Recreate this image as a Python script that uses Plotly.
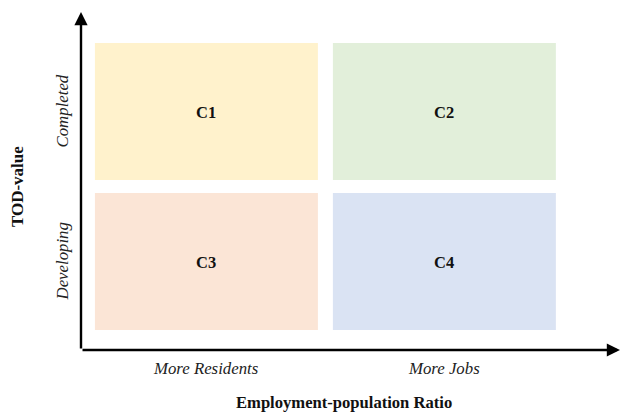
import plotly.graph_objects as go

# ---- data ----
column_labels = ["More Residents", "More Jobs"]          # x categories
row_labels = ["Developing", "Completed"]                 # y categories (bottom -> top)
cell_names = ["C1", "C2", "C3", "C4"]
cell_cols = [0, 1, 0, 1]
cell_rows = [1, 1, 0, 0]
cell_colors = ["#FFF2CC", "#E2EFDA", "#FBE5D6", "#DAE3F3"]
x_title = "Employment-population Ratio"
y_title = "TOD-value"

# ---- style ----
FONT = "Liberation Serif, Times New Roman, serif"
XGAP = 0.063   # gap between cells (x units)
YGAP = 0.087   # gap between cells (y units)
XRANGE = [-0.027, 2.238]
YRANGE = [-0.09, 2.163]

fig = go.Figure()

shapes = []
annotations = []
for name, c, r, col in zip(cell_names, cell_cols, cell_rows, cell_colors):
    shapes.append(dict(type="rect", xref="x", yref="y",
                       x0=c + XGAP / 2, x1=c + 1 - XGAP / 2,
                       y0=r + YGAP / 2, y1=r + 1 - YGAP / 2,
                       fillcolor=col, line=dict(width=0), layer="below"))
    annotations.append(dict(x=c + 0.5, y=r + 0.5, xref="x", yref="y",
                            text=f"<b>{name}</b>", showarrow=False, yshift=-1,
                            font=dict(family=FONT, size=16.5, color="#111")))

# column labels (below x axis)
for i, lab in enumerate(column_labels):
    annotations.append(dict(x=i + 0.5, y=0, xref="x", yref="paper",
                            text=f"<i>{lab}</i>", showarrow=False,
                            yanchor="middle", yshift=-18,
                            font=dict(family=FONT, size=16.8, color="#222")))
# row labels (left of y axis)
for j, lab in enumerate(row_labels):
    annotations.append(dict(x=0, y=j + 0.5, xref="paper", yref="y",
                            text=f"<i>{lab}</i>", showarrow=False, textangle=-90,
                            xanchor="center", xshift=-19,
                            font=dict(family=FONT, size=16.8, color="#222")))

# axis titles
annotations.append(dict(x=0.488, y=0, xref="paper", yref="paper",
                        text=f"<b>{x_title}</b>", showarrow=False,
                        yanchor="middle", yshift=-52,
                        font=dict(family=FONT, size=16.6, color="#111")))
annotations.append(dict(x=0, y=0.482, xref="paper", yref="paper",
                        text=f"<b>{y_title}</b>", showarrow=False, textangle=-90,
                        xanchor="center", xshift=-64,
                        font=dict(family=FONT, size=17, color="#111")))

# axis arrows
arrow = dict(text="", showarrow=True, arrowhead=2, arrowsize=1.1, arrowwidth=2.4,
             arrowcolor="#000", standoff=0, startstandoff=0,
             xref="x domain", yref="y domain", axref="x domain", ayref="y domain")
annotations.append(dict(x=1, y=0, ax=0, ay=0, **arrow))
annotations.append(dict(x=0, y=1, ax=0, ay=0, **arrow))

fig.update_layout(
    width=621, height=414,
    margin=dict(l=81, r=1, t=12, b=64),
    paper_bgcolor="white", plot_bgcolor="white",
    shapes=shapes, annotations=annotations,
    xaxis=dict(range=XRANGE, visible=False, fixedrange=True),
    yaxis=dict(range=YRANGE, visible=False, fixedrange=True),
    showlegend=False,
)

fig.write_html("out.html", config={"displayModeBar": False},
               post_script="document.body.style.margin='0';document.body.style.overflow='hidden';")
